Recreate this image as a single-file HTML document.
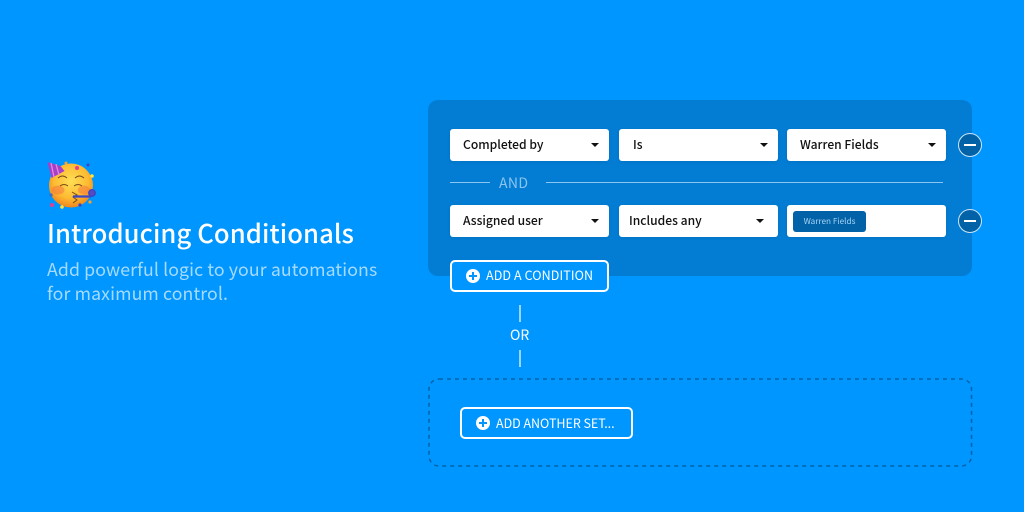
<!DOCTYPE html>
<html><head><meta charset="utf-8">
<style>
html,body{margin:0;padding:0}
body{width:1024px;height:512px;overflow:hidden;background:#0096ff;position:relative;font-family:"Liberation Sans","Noto Sans CJK JP",sans-serif}
.a{position:absolute;white-space:nowrap}
.f{font-family:"Noto Sans CJK JP","Liberation Sans",sans-serif}
.sel{position:absolute;width:159px;height:32px;background:#fff;border-radius:3px;box-shadow:0 1px 3px rgba(0,50,100,.12)}
.sel span{position:absolute;left:13px;top:0;line-height:31px;font-size:12.100px;font-weight:500;color:#111;white-space:nowrap;font-family:"Noto Sans CJK JP",sans-serif}
.sel i{position:absolute;left:141px;top:14px;width:0;height:0;border-left:4px solid transparent;border-right:4px solid transparent;border-top:4px solid #111}
.min{position:absolute;width:22px;height:22px;border:1.5px solid #cfe6f7;border-radius:50%;background:#0262a8}
.min b{position:absolute;left:5px;top:10px;width:12px;height:2px;background:#fff}
.btn{position:absolute;height:28px;border:2px solid #fff;border-radius:5px;color:#fff;font-size:12.500px;font-weight:400;line-height:26px;font-family:"Noto Sans CJK JP",sans-serif;box-sizing:content-box;white-space:nowrap}
.plus{position:absolute;top:7px;width:14px;height:14px;border-radius:50%;background:#fff}
.plus:before{content:"";position:absolute;left:3px;top:6px;width:8px;height:2px;background:#0096ff}
.plus:after{content:"";position:absolute;left:6px;top:3px;width:2px;height:8px;background:#0096ff}
</style></head><body>
<svg class="a" style="left:40px;top:155px" width="64" height="60" viewBox="40 155 64 60">
<defs><radialGradient id="g" cx="50%" cy="40%" r="60%"><stop offset="0" stop-color="#ffdf55"/><stop offset=".65" stop-color="#fdbb32"/><stop offset="1" stop-color="#f0851c"/></radialGradient></defs>
<circle cx="71" cy="185.500" r="22" fill="url(#g)"/>
<ellipse cx="58" cy="190" rx="6.500" ry="4.500" fill="#f4703f" opacity=".5"/><ellipse cx="84" cy="190" rx="6" ry="4.500" fill="#f4703f" opacity=".5"/>
<path d="M47.500 162l13 4 4 5-13 7z" fill="#a83fc8"/><path d="M51 163l3 14M56 164l3 11" stroke="#e58ad6" stroke-width="1.300"/>
<path d="M58 178q4.500-4 9 0M75 178q4.500-4 9 0M60 186q4-3 8 0M74 186q4-3 8 0" fill="none" stroke="#7a4a1a" stroke-width="1"/>
<path d="M72 192l5 3-4 2 4 3-4 3" fill="none" stroke="#7a4a1a" stroke-width="1"/>
<path d="M73 196.500h18" stroke="#3d46c4" stroke-width="2.200"/><circle cx="92" cy="193" r="3.200" fill="#5a4ac0" stroke="#3d46c4" stroke-width="1.500"/>
<circle cx="66" cy="163" r="1.500" fill="#f6a02e"/><circle cx="77" cy="168" r="2" fill="#e83e8c"/><circle cx="88" cy="165" r="1.500" fill="#3d46c4"/><circle cx="92" cy="176" r="1.800" fill="#ffe23d"/><circle cx="51" cy="195" r="1.600" fill="#3d6ac4"/><circle cx="52" cy="205" r="2" fill="#e83e8c"/><circle cx="62" cy="207" r="1.800" fill="#ffe23d"/><circle cx="80" cy="205" r="1.600" fill="#3d46c4"/><circle cx="90" cy="202" r="1.600" fill="#f6a02e"/>
</svg>
<div class="a f" style="left:47px;top:214px;font-size:25.600px;line-height:37px;font-weight:500;color:#fff;letter-spacing:.1px">Introducing Conditionals</div>
<div class="a f" style="left:47px;top:257px;font-size:17.700px;line-height:24px;color:#a6dbff;letter-spacing:.12px">Add powerful logic to your automations<br>for maximum control.</div>

<div class="a" style="left:428px;top:100px;width:544px;height:176px;background:#027dd3;border-radius:10px"></div>
<div class="sel" style="left:450px;top:129px"><span>Completed by</span><i></i></div>
<div class="sel" style="left:619px;top:129px"><span style="left:14px">Is</span><i></i></div>
<div class="sel" style="left:787px;top:129px"><span>Warren Fields</span><i></i></div>
<div class="a" style="left:450px;top:182px;width:40px;height:1px;background:#8cc6ee"></div>
<div class="a" style="left:546px;top:182px;width:397px;height:1px;background:#8cc6ee"></div>
<div class="a f" style="left:499px;top:174px;font-size:14px;line-height:18px;color:#8cc6ee;letter-spacing:.4px">AND</div>
<div class="sel" style="left:450px;top:205px"><span>Assigned user</span><i></i></div>
<div class="sel" style="left:619px;top:205px"><span style="left:10px">Includes any</span><i style="left:137px"></i></div>
<div class="sel" style="left:787px;top:205px"><div class="a f" style="left:6px;top:6px;width:73px;height:21px;background:#0262a8;border-radius:3px;color:#a6d4f5;font-size:8.200px;line-height:21px;text-align:center">Warren Fields</div></div>
<div class="min" style="left:958px;top:133px"><b></b></div>
<div class="min" style="left:958px;top:209px"><b></b></div>

<div class="btn" style="left:450px;top:260px;width:155px;background:#0096ff"><div class="plus" style="left:14px"></div><span style="position:absolute;left:34px;top:0;letter-spacing:.1px">ADD A CONDITION</span></div>
<div class="a" style="left:519px;top:305px;width:2px;height:17px;background:#9ad5ff"></div>
<div class="a f" style="left:510px;top:326px;font-size:14px;line-height:18px;font-weight:400;color:#fff">OR</div>
<div class="a" style="left:519px;top:350px;width:2px;height:17px;background:#9ad5ff"></div>
<svg class="a" style="left:428px;top:378px" width="545" height="89"><rect x="1" y="1" width="542.500" height="87" rx="10" fill="none" stroke="#0262a8" stroke-width="1.500" stroke-dasharray="4 4"/></svg>
<div class="btn" style="left:460px;top:407px;width:169px"><div class="plus" style="left:14px"></div><span style="position:absolute;left:34px;top:.5px;letter-spacing:-.03px">ADD ANOTHER SET...</span></div>
</body></html>
